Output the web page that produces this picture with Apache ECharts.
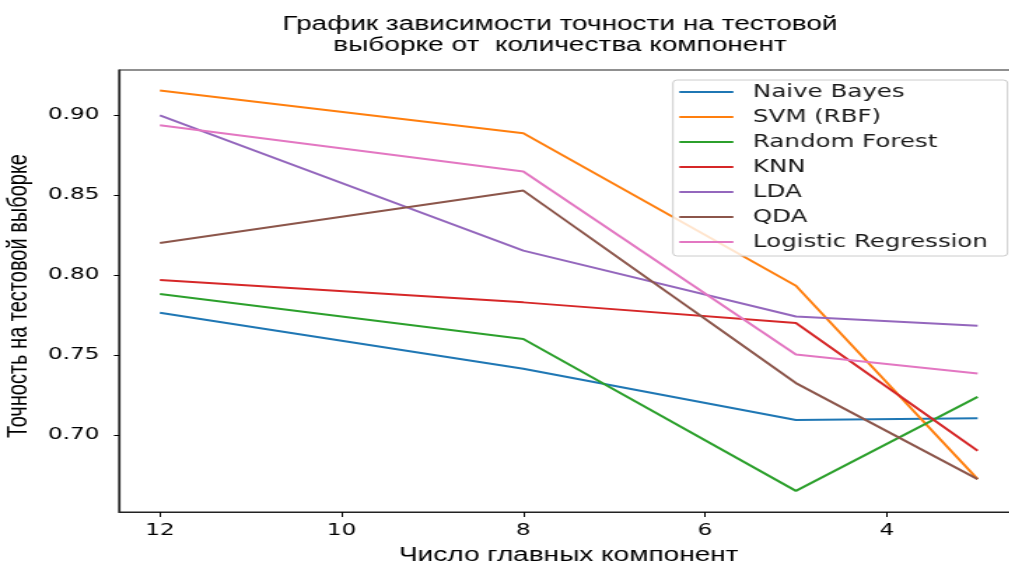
<!DOCTYPE html>
<html>
<head>
<meta charset="utf-8">
<script src="https://cdn.jsdelivr.net/npm/echarts@6/dist/echarts.min.js"></script>
<style>
  html, body { margin: 0; padding: 0; background: #fff; overflow: hidden; width: 1010px; height: 565px; }
  /* the figure is laid out on a narrower canvas and widened to the page */
  #chart { width: 721.43px; height: 565px; transform: scaleX(1.4); transform-origin: 0 0; }
</style>
</head>
<body>
<div id="chart"></div>
<script>
// number of principal components kept
const components = [12, 8, 5, 3];

// test-set accuracy of each classifier
const naiveBayes = [0.7764, 0.7414, 0.7094, 0.7106];
const svmRbf     = [0.9152, 0.8885, 0.7933, 0.6725];
const randForest = [0.7881, 0.7600, 0.6652, 0.7239];
const knn        = [0.7969, 0.7829, 0.7700, 0.6902];
const lda        = [0.8996, 0.8152, 0.7741, 0.7683];
const qda        = [0.8200, 0.8527, 0.7325, 0.6725];
const logReg     = [0.8935, 0.8646, 0.7504, 0.7385];

const seriesNames = ['Naive Bayes', 'SVM (RBF)', 'Random Forest', 'KNN', 'LDA', 'QDA', 'Logistic Regression'];
const seriesValues = [naiveBayes, svmRbf, randForest, knn, lda, qda, logReg];
const colors = ['#1f77b4', '#ff7f0e', '#2ca02c', '#d62728', '#9467bd', '#8c564b', '#e377c2'];

const xTicks = [12, 10, 8, 6, 4];
const yTicks = [0.70, 0.75, 0.80, 0.85, 0.90];

const chart = echarts.init(document.getElementById('chart'));

chart.setOption({
  animation: false,
  backgroundColor: '#fff',
  color: colors,
  title: {
    text: 'График зависимости точности на тестовой\nвыборке от  количества компонент',
    left: 400,
    top: 14,
    padding: 0,
    textAlign: 'center',
    textStyle: {
      fontFamily: 'Liberation Sans',
      fontSize: 20,
      lineHeight: 21,
      fontWeight: 'normal',
      color: '#000'
    }
  },
  grid: {
    left: 85,
    top: 70,
    width: 642.5,
    height: 442,
    outerBoundsMode: 'none',
    containLabel: false,
    show: true,
    borderColor: '#222',
    borderWidth: 1.2,
    backgroundColor: 'transparent'
  },
  legend: {
    data: seriesNames,
    orient: 'vertical',
    left: 480.7,
    top: 80,
    icon: 'rect',
    itemWidth: 38.6,
    itemHeight: 2,
    itemGap: 7,
    selectedMode: false,
    padding: [3, 14, 5, 4.5],
    backgroundColor: 'rgba(255,255,255,0.8)',
    borderColor: '#cccccc',
    borderWidth: 1,
    borderRadius: 3,
    textStyle: {
      fontFamily: 'DejaVu Sans',
      fontSize: 17.5,
      lineHeight: 18,
      color: '#1a1a1a',
      padding: [0, 0, 0, 9]
    }
  },
  xAxis: {
    type: 'value',
    inverse: true,
    min: 2.55,
    max: 12.45,
    name: 'Число главных компонент',
    nameLocation: 'middle',
    nameGap: 33,
    nameTextStyle: { fontFamily: 'Liberation Sans', fontSize: 20, color: '#000' },
    axisLine: { show: true, lineStyle: { color: '#222', width: 1.2 } },
    axisTick: { show: true, customValues: xTicks, length: 5, lineStyle: { color: '#000', width: 1 } },
    axisLabel: {
      customValues: xTicks,
      fontFamily: 'DejaVu Sans',
      fontSize: 16.5,
      color: '#000',
      margin: 10
    },
    splitLine: { show: false }
  },
  yAxis: {
    type: 'value',
    min: 0.652,
    max: 0.928,
    name: 'Точность на тестовой выборке',
    nameLocation: 'middle',
    nameGap: 55,
    nameTextStyle: { fontFamily: 'Liberation Sans', fontSize: 20, color: '#000', padding: [0, 10, 0, 0] },
    axisLine: { show: true, lineStyle: { color: '#222', width: 1.2 } },
    axisTick: { show: true, customValues: yTicks, length: 3.6, lineStyle: { color: '#000', width: 1 } },
    axisLabel: {
      customValues: yTicks,
      formatter: v => v.toFixed(2),
      fontFamily: 'DejaVu Sans',
      fontSize: 16.5,
      color: '#000',
      margin: 14
    },
    splitLine: { show: false }
  },
  series: seriesNames.map((name, i) => ({
    name: name,
    type: 'line',
    symbol: 'none',
    lineStyle: { width: 2 },
    data: components.map((c, j) => [c, seriesValues[i][j]])
  }))
});
</script>
</body>
</html>
